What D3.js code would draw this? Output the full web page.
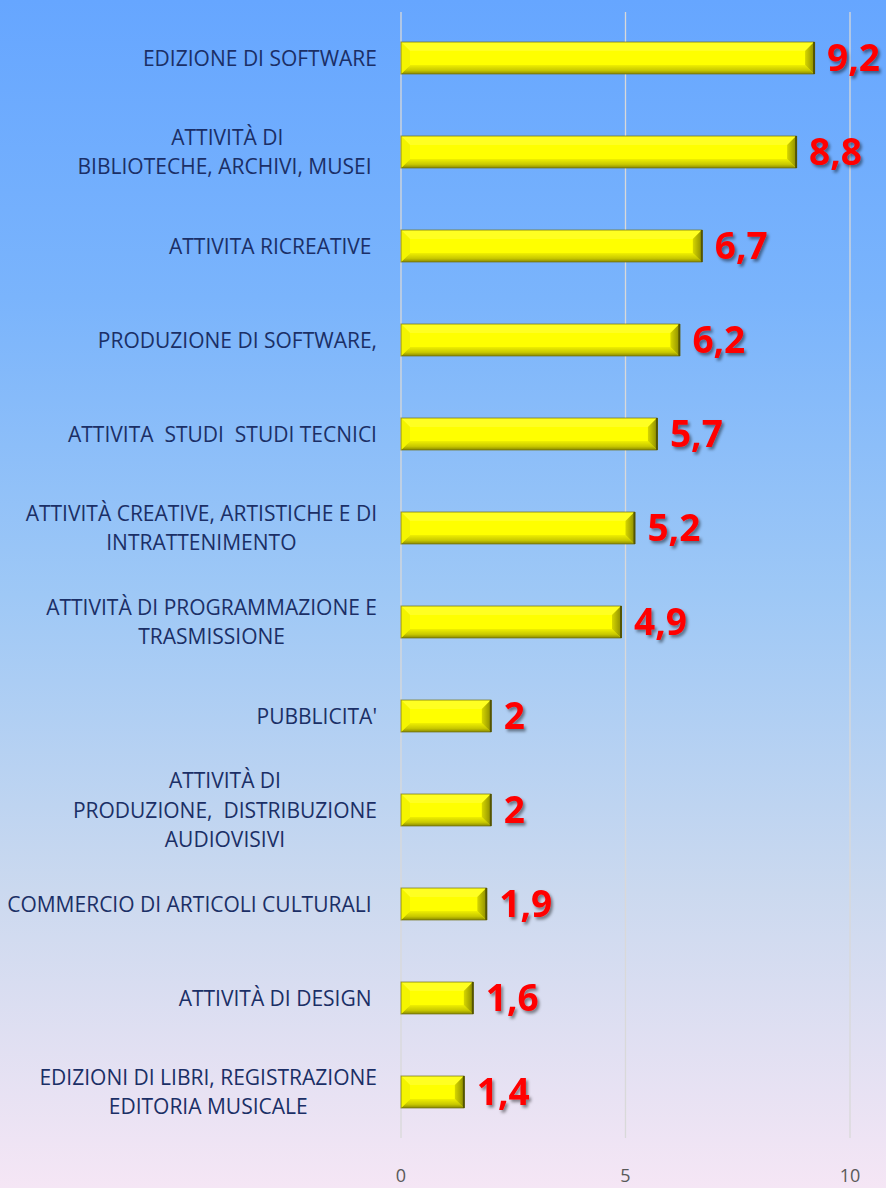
<!DOCTYPE html>
<html><head><meta charset="utf-8">
<script src="https://cdn.jsdelivr.net/npm/d3@7"></script>
<style>html,body{margin:0;padding:0;overflow:hidden}svg{display:block}</style>
</head><body>
<script>
const categories = [
  ["EDIZIONE DI SOFTWARE"],
  ["ATTIVITÀ DI", "BIBLIOTECHE, ARCHIVI, MUSEI "],
  ["ATTIVITA RICREATIVE "],
  ["PRODUZIONE DI SOFTWARE,"],
  ["ATTIVITA  STUDI  STUDI TECNICI"],
  ["ATTIVITÀ CREATIVE, ARTISTICHE E DI", "INTRATTENIMENTO"],
  ["ATTIVITÀ DI PROGRAMMAZIONE E", "TRASMISSIONE"],
  ["PUBBLICITA'"],
  ["ATTIVITÀ DI", "PRODUZIONE,  DISTRIBUZIONE", "AUDIOVISIVI"],
  ["COMMERCIO DI ARTICOLI CULTURALI "],
  ["ATTIVITÀ DI DESIGN "],
  ["EDIZIONI DI LIBRI, REGISTRAZIONE", "EDITORIA MUSICALE"]
];
const values = [9.2, 8.8, 6.7, 6.2, 5.7, 5.2, 4.9, 2, 2, 1.9, 1.6, 1.4];
const tickValues = [0, 5, 10];

const W = 886, H = 1188;
const svg = d3.select("body").append("svg").attr("width", W).attr("height", H);
const defs = svg.append("defs");

const bg = defs.append("linearGradient").attr("id", "bg").attr("x1", 0).attr("y1", 0).attr("x2", 0).attr("y2", 1);
[[0, "#66a6ff"], [0.25, "#7ab4fc"], [0.5, "#9ec8f6"], [0.75, "#cbd9ef"], [1, "#f5e6f5"]]
  .forEach(([o, c]) => bg.append("stop").attr("offset", o).attr("stop-color", c));

const gBot = defs.append("linearGradient").attr("id", "gBot").attr("x1", 0).attr("y1", 0).attr("x2", 0).attr("y2", 1);
[[0, "#f0f000"], [0.6, "#c8c800"], [1, "#8a8a00"]].forEach(([o, c]) => gBot.append("stop").attr("offset", o).attr("stop-color", c));
const gRight = defs.append("linearGradient").attr("id", "gRight").attr("x1", 0).attr("y1", 0).attr("x2", 1).attr("y2", 0);
[[0, "#d6d600"], [1, "#8f8f00"]].forEach(([o, c]) => gRight.append("stop").attr("offset", o).attr("stop-color", c));

const sh = defs.append("filter").attr("id", "sh").attr("x", "-20%").attr("y", "-20%").attr("width", "150%").attr("height", "150%");
sh.append("feDropShadow").attr("dx", 2).attr("dy", 2.5).attr("stdDeviation", 1.6).attr("flood-color", "#000").attr("flood-opacity", 0.45);

svg.append("rect").attr("width", W).attr("height", H).attr("fill", "url(#bg)");

const x = d3.scaleLinear().domain([0, 10]).range([401, 850]);
const y = d3.scaleBand().domain(d3.range(categories.length)).range([11, 1139])
  .paddingInner(0.66).paddingOuter(0.33);

// gridlines
svg.append("g").selectAll("line").data(tickValues).join("line")
  .attr("x1", d => x(d)).attr("x2", d => x(d)).attr("y1", 12).attr("y2", 1138)
  .attr("stroke", "#d9d9d9").attr("stroke-width", 1.3);

// axis tick labels
svg.append("g").selectAll("text").data(tickValues).join("text")
  .attr("x", d => x(d)).attr("y", 1182).attr("text-anchor", "middle")
  .attr("font-family", "'Open Sans', sans-serif").attr("font-size", 18).attr("fill", "#595959")
  .text(d => d);

// bars with bevel
const b = 9;
const bars = svg.append("g").selectAll("g").data(values).join("g");
bars.each(function (v, i) {
  const g = d3.select(this);
  const x0 = x(0), x1 = x(v), y0 = y(i), y1 = y(i) + y.bandwidth();
  const bb = Math.min(b, (x1 - x0) / 2);
  g.append("rect").attr("x", x0).attr("y", y0).attr("width", x1 - x0).attr("height", y1 - y0).attr("fill", "#ffff00");
  g.append("polygon").attr("points", [[x0, y1], [x1, y1], [x1 - bb, y1 - b], [x0 + bb, y1 - b]].join(" ")).attr("fill", "url(#gBot)");
  g.append("polygon").attr("points", [[x0, y0], [x1, y0], [x1 - bb, y0 + b], [x0 + bb, y0 + b]].join(" ")).attr("fill", "#ffff22");
  g.append("polygon").attr("points", [[x1, y0], [x1, y1], [x1 - bb, y1 - b], [x1 - bb, y0 + b]].join(" ")).attr("fill", "url(#gRight)");
  g.append("polygon").attr("points", [[x0, y0], [x0, y1], [x0 + bb, y1 - b], [x0 + bb, y0 + b]].join(" ")).attr("fill", "#f4f400");
  g.append("rect").attr("x", x0).attr("y", y0).attr("width", x1 - x0).attr("height", y1 - y0)
    .attr("fill", "none").attr("stroke", "#6f6f10").attr("stroke-width", 1).attr("stroke-opacity", 0.7);
  g.append("line").attr("x1", x1).attr("x2", x1).attr("y1", y0).attr("y2", y1).attr("stroke", "#555500").attr("stroke-width", 2);
});

// value labels
svg.append("g").selectAll("text").data(values).join("text")
  .attr("x", d => x(d) + 13).attr("y", (d, i) => y(i) + y.bandwidth() / 2 + 13)
  .attr("font-family", "'Open Sans', sans-serif").attr("font-weight", 700).attr("font-size", 37)
  .attr("fill", "#ff0000").attr("filter", "url(#sh)")
  .text(d => String(d).replace(".", ","));

// category labels
const lh = 29.5, rightEdge = 377;
const labG = svg.append("g");
categories.forEach((lines, i) => {
  const cy = y(i) + y.bandwidth() / 2;
  const t = labG.append("text").attr("font-family", "'Open Sans', sans-serif").attr("font-size", 21)
    .attr("fill", "#1b2f66").attr("text-anchor", "middle").style("white-space", "pre");
  const spans = lines.map((s, k) => t.append("tspan").attr("y", cy + (k - (lines.length - 1) / 2) * lh + 7.5).text(s));
  const maxW = d3.max(spans, s => s.node().getComputedTextLength());
  spans.forEach(s => s.attr("x", rightEdge - maxW / 2));
});
</script>
</body></html>
